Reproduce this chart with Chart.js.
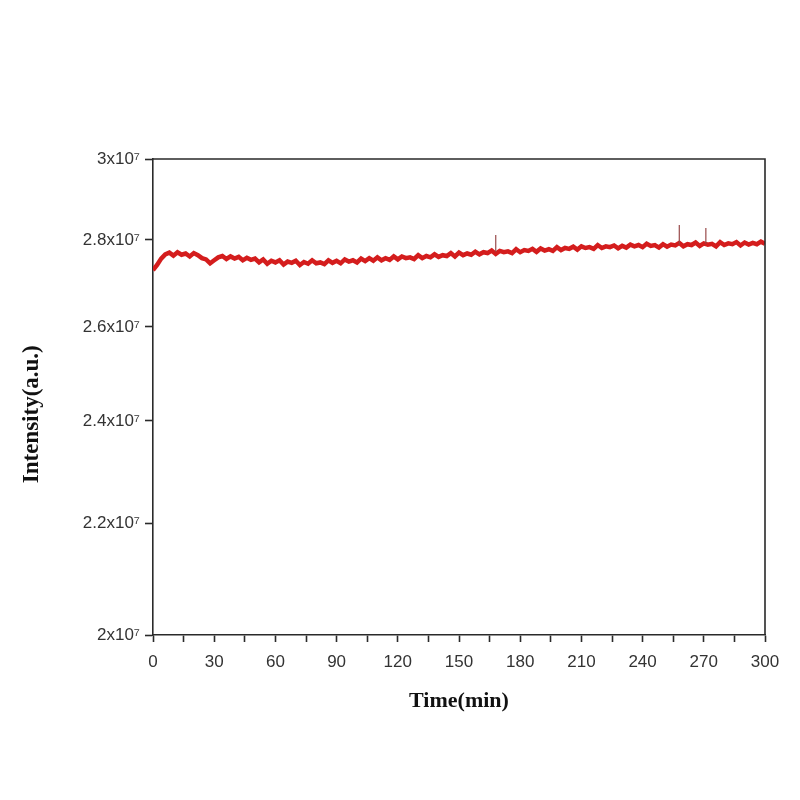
<!DOCTYPE html>
<html>
<head>
<meta charset="utf-8">
<script src="https://cdn.jsdelivr.net/npm/chart.js@4/dist/chart.umd.min.js"></script>
<style>
  body { margin: 0; background: #fff; }
  #wrap { width: 800px; height: 800px; }
</style>
</head>
<body>
<div id="wrap"><canvas id="myChart" width="800" height="800"></canvas></div>
<script>
// time in minutes
var times = [0, 2, 4, 6, 8, 10, 12, 14, 16, 18, 20, 22, 24, 26, 28, 30, 32, 34, 36, 38,
  40, 42, 44, 46, 48, 50, 52, 54, 56, 58, 60, 62, 64, 66, 68, 70, 72, 74, 76, 78,
  80, 82, 84, 86, 88, 90, 92, 94, 96, 98, 100, 102, 104, 106, 108, 110, 112, 114, 116, 118,
  120, 122, 124, 126, 128, 130, 132, 134, 136, 138, 140, 142, 144, 146, 148, 150, 152, 154, 156, 158,
  160, 162, 164, 166, 168, 170, 172, 174, 176, 178, 180, 182, 184, 186, 188, 190, 192, 194, 196, 198,
  200, 202, 204, 206, 208, 210, 212, 214, 216, 218, 220, 222, 224, 226, 228, 230, 232, 234, 236, 238,
  240, 242, 244, 246, 248, 250, 252, 254, 256, 258, 260, 262, 264, 266, 268, 270, 272, 274, 276, 278,
  280, 282, 284, 286, 288, 290, 292, 294, 296, 298, 300];

// intensity in units of 10^7 (a.u.)
var intensity = [2.729, 2.741, 2.756, 2.766, 2.770, 2.763, 2.771, 2.765, 2.768, 2.761, 2.769, 2.764, 2.757, 2.754, 2.745, 2.752, 2.759, 2.762, 2.755, 2.761,
  2.756, 2.760, 2.752, 2.758, 2.753, 2.756, 2.747, 2.754, 2.744, 2.751, 2.747, 2.752, 2.742, 2.749, 2.746, 2.751, 2.741, 2.748, 2.744, 2.752,
  2.745, 2.747, 2.743, 2.752, 2.746, 2.751, 2.745, 2.754, 2.749, 2.752, 2.747, 2.756, 2.750, 2.757, 2.751, 2.759, 2.752, 2.757, 2.753, 2.761,
  2.754, 2.761, 2.757, 2.759, 2.755, 2.764, 2.757, 2.762, 2.759, 2.766, 2.760, 2.764, 2.762, 2.769, 2.761, 2.770, 2.764, 2.768, 2.765, 2.772,
  2.766, 2.771, 2.769, 2.775, 2.767, 2.774, 2.771, 2.773, 2.769, 2.778, 2.771, 2.776, 2.774, 2.779, 2.772, 2.780, 2.775, 2.778, 2.774, 2.783,
  2.776, 2.781, 2.779, 2.784, 2.777, 2.785, 2.781, 2.783, 2.779, 2.788, 2.781, 2.785, 2.783, 2.787, 2.780, 2.786, 2.782, 2.789, 2.785, 2.788,
  2.783, 2.791, 2.786, 2.788, 2.782, 2.790, 2.784, 2.789, 2.787, 2.793, 2.785, 2.790, 2.788, 2.794, 2.786, 2.792, 2.789, 2.791, 2.785, 2.795,
  2.788, 2.792, 2.790, 2.795, 2.787, 2.794, 2.789, 2.793, 2.790, 2.796, 2.791];

// a few short spikes in the trace
var spikeTimes = [168, 258, 271];
var spikeBase = [2.772, 2.789, 2.791];
var spikeTops = [2.812, 2.836, 2.829];

var yTicks = [2, 2.2, 2.4, 2.6, 2.8, 3];
var yTickLabels = ['2x10\u2077', '2.2x10\u2077', '2.4x10\u2077', '2.6x10\u2077', '2.8x10\u2077', '3x10\u2077'];

var mainPoints = [];
for (var i = 0; i < times.length; i++) {
    mainPoints.push({x: times[i], y: intensity[i]});
}
var spikePoints = [];
for (var j = 0; j < spikeTimes.length; j++) {
    spikePoints.push({x: spikeTimes[j], y: spikeBase[j]});
    spikePoints.push({x: spikeTimes[j], y: spikeTops[j]});
    spikePoints.push({x: spikeTimes[j], y: null});
}

// frame on top and right of the plot
var boxPlugin = {
    id: 'box',
    afterDraw: function (chart) {
        var a = chart.chartArea;
        var c = chart.ctx;
        c.save();
        c.strokeStyle = '#2a2a2a';
        c.lineWidth = 1.6;
        c.beginPath();
        c.moveTo(a.left, a.top);
        c.lineTo(a.right, a.top);
        c.lineTo(a.right, a.bottom);
        c.stroke();
        c.restore();
    }
};

const ctx = document.getElementById('myChart').getContext('2d');
const myChart = new Chart(ctx, {
    type: 'line',
    data: {
        datasets: [{
            label: 'spikes',
            data: spikePoints,
            borderColor: 'rgba(150, 70, 70, 0.9)',
            borderWidth: 1.3,
            pointRadius: 0,
            spanGaps: false
        }, {
            label: 'Intensity',
            data: mainPoints,
            borderColor: '#d41d1d',
            borderWidth: 4.5,
            pointRadius: 0,
            tension: 0
        }]
    },
    options: {
        responsive: false,
        animation: false,
        layout: { padding: { left: 0, top: 159, right: 35, bottom: 85 } },
        plugins: {
            legend: { display: false },
            tooltip: { enabled: false }
        },
        scales: {
            x: {
                type: 'linear',
                min: 0,
                max: 300,
                afterFit: function (scale) { scale.height = 80; },
                border: { color: '#2a2a2a', width: 1.6 },
                grid: { drawOnChartArea: false, tickLength: 7, tickColor: '#2a2a2a', tickWidth: 1.6 },
                ticks: {
                    stepSize: 15,
                    autoSkip: false,
                    maxRotation: 0,
                    padding: 10,
                    color: '#333',
                    font: { family: 'Liberation Sans, Arial, sans-serif', size: 17 },
                    callback: function (value) { return value % 30 === 0 ? value : ''; }
                },
                title: {
                    display: true,
                    text: 'Time(min)',
                    color: '#111',
                    padding: { top: 0, bottom: 0 },
                    font: { family: 'Liberation Serif, Times New Roman, serif', size: 22, weight: 'bold' }
                }
            },
            y: {
                type: 'logarithmic',
                min: 2,
                max: 3,
                afterFit: function (scale) { scale.width = 153; },
                afterBuildTicks: function (scale) {
                    scale.ticks = yTicks.map(function (v) { return {value: v}; });
                },
                border: { color: '#2a2a2a', width: 1.6 },
                grid: { drawOnChartArea: false, tickLength: 8, tickColor: '#2a2a2a', tickWidth: 1.6 },
                ticks: {
                    padding: 5,
                    color: '#333',
                    font: { family: 'Liberation Sans, Arial, sans-serif', size: 17 },
                    callback: function (value) {
                        var k = yTicks.indexOf(value);
                        return k >= 0 ? yTickLabels[k] : '';
                    }
                },
                title: {
                    display: true,
                    text: 'Intensity(a.u.)      ',
                    color: '#111',
                    padding: { top: 18, bottom: 0 },
                    font: { family: 'Liberation Serif, Times New Roman, serif', size: 23, weight: 'bold' }
                }
            }
        }
    },
    plugins: [boxPlugin]
});
</script>
</body>
</html>
